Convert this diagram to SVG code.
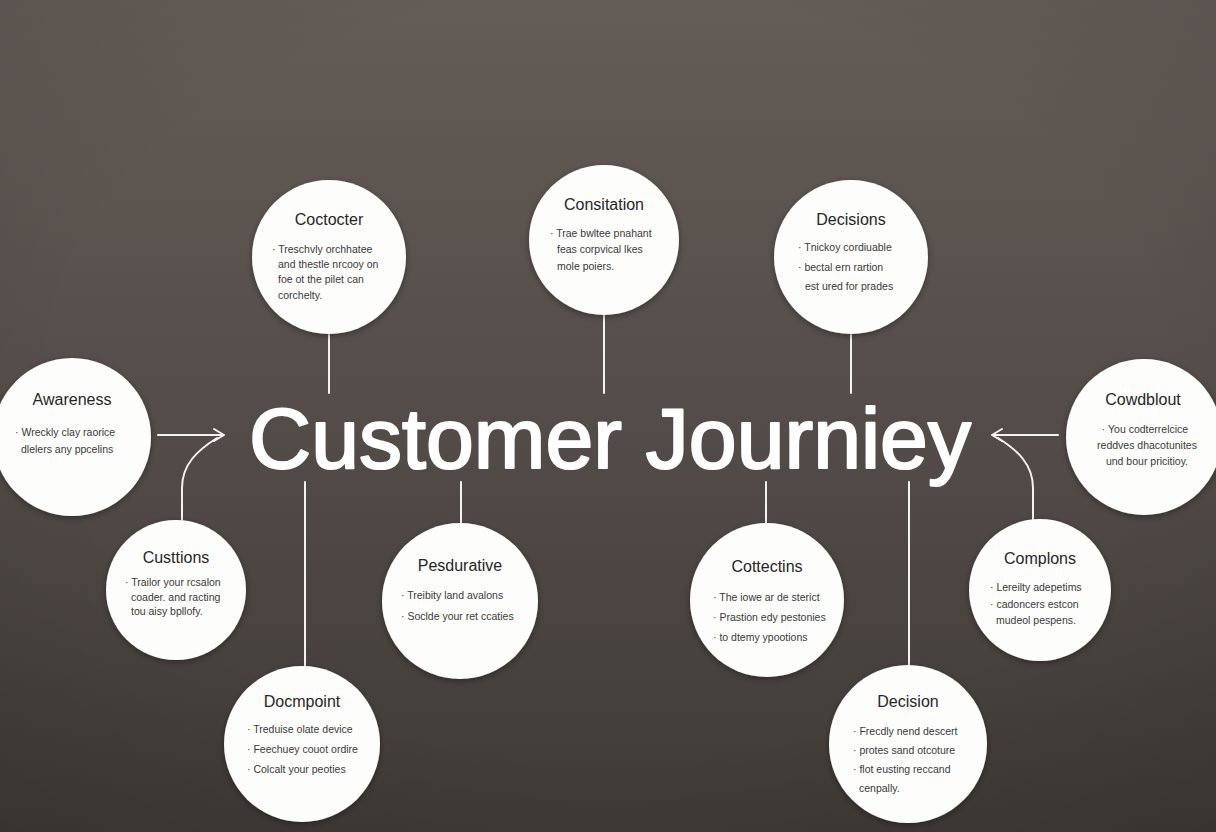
<svg xmlns="http://www.w3.org/2000/svg" width="1216" height="832" viewBox="0 0 1216 832">
<defs>
<linearGradient id="bg" x1="0" y1="0" x2="0" y2="1">
<stop offset="0" stop-color="#645c57"/>
<stop offset="0.5" stop-color="#534c48"/>
<stop offset="1" stop-color="#403a36"/>
</linearGradient>
<radialGradient id="vig" cx="0.5" cy="0.45" r="0.75">
<stop offset="0.6" stop-color="#000" stop-opacity="0"/>
<stop offset="1" stop-color="#000" stop-opacity="0.12"/>
</radialGradient>
<filter id="sh" x="-20%" y="-20%" width="140%" height="140%">
<feDropShadow dx="0" dy="2" stdDeviation="3" flood-color="#000" flood-opacity="0.35"/>
</filter>
</defs>
<style>
.c{fill:#fdfdfc;filter:url(#sh)}
.t{font-family:"Liberation Sans",Arial,sans-serif;font-size:16px;fill:#262626;text-anchor:middle}
.b{font-family:"Liberation Sans",Arial,sans-serif;font-size:10.5px;fill:#3a3a3a}
.m{text-anchor:middle}
.ln{stroke:#f4f2f0;stroke-width:2;fill:none;stroke-linecap:round;stroke-linejoin:round}
.title{font-family:"Liberation Sans",Arial,sans-serif;font-size:86px;fill:#ffffff;stroke:#ffffff;stroke-width:2.2;stroke-linejoin:round}
</style>
<rect width="1216" height="832" fill="url(#bg)"/>
<rect width="1216" height="832" fill="url(#vig)"/>

<g id="connectors">
<line class="ln" x1="329" y1="335" x2="329" y2="393"/>
<line class="ln" x1="604" y1="315" x2="604" y2="393"/>
<line class="ln" x1="851" y1="335" x2="851" y2="393"/>
<line class="ln" x1="305" y1="482" x2="305" y2="666"/>
<line class="ln" x1="461" y1="482" x2="461" y2="523"/>
<line class="ln" x1="766" y1="482" x2="766" y2="523"/>
<line class="ln" x1="909" y1="482" x2="909" y2="665"/>
<path class="ln" d="M158,435 L224,435 M214,429 L224,435 L214,441"/>
<path class="ln" d="M182,520 L182,488 C182,464 198,450 217,438"/>
<path class="ln" d="M1058,435 L992,435 M1002,429 L992,435 L1002,441"/>
<path class="ln" d="M1033,520 L1033,488 C1033,464 1017,450 998,438"/>
</g>

<text id="title" class="title" x="249" y="468" textLength="722" lengthAdjust="spacingAndGlyphs">Customer Journiey</text>

<g id="coctocter">
<circle class="c" cx="329" cy="257" r="77"/>
<text class="t" x="329" y="225">Coctocter</text>
<text class="b" x="272" y="253">· Treschvly orchhatee</text>
<text class="b" x="278" y="268">and thestle nrcooy on</text>
<text class="b" x="278" y="283">foe ot the pilet can</text>
<text class="b" x="278" y="299">corchelty.</text>
</g>

<g id="consitation">
<circle class="c" cx="604" cy="240" r="75"/>
<text class="t" x="604" y="210">Consitation</text>
<text class="b" x="550" y="237">· Trae bwltee pnahant</text>
<text class="b" x="557" y="253">feas corpvical lkes</text>
<text class="b" x="557" y="270">mole poiers.</text>
</g>

<g id="decisions">
<circle class="c" cx="851" cy="257" r="77"/>
<text class="t" x="851" y="225">Decisions</text>
<text class="b" x="798" y="251">· Tnickoy cordiuable</text>
<text class="b" x="798" y="271">· bectal ern rartion</text>
<text class="b" x="805" y="290">est ured for prades</text>
</g>

<g id="awareness">
<circle class="c" cx="72" cy="437" r="79"/>
<text class="t" x="72" y="405">Awareness</text>
<text class="b" x="15" y="436">· Wreckly clay raorice</text>
<text class="b" x="21" y="453">dlelers any ppcelins</text>
</g>

<g id="cowdblout">
<circle class="c" cx="1144" cy="437" r="78"/>
<text class="t" x="1143" y="405">Cowdblout</text>
<text class="b m" x="1145" y="433">· You codterrelcice</text>
<text class="b m" x="1147" y="449">reddves dhacotunites</text>
<text class="b m" x="1147" y="465">und bour pricitioy.</text>
</g>

<g id="custtions">
<circle class="c" cx="176" cy="590" r="70"/>
<text class="t" x="176" y="563">Custtions</text>
<text class="b" x="125" y="586">· Trailor your rcsalon</text>
<text class="b" x="131" y="601">coader. and racting</text>
<text class="b" x="131" y="615">tou aisy bpllofy.</text>
</g>

<g id="pesdurative">
<circle class="c" cx="460" cy="601" r="78"/>
<text class="t" x="460" y="571">Pesdurative</text>
<text class="b" x="401" y="599">· Treibity land avalons</text>
<text class="b" x="401" y="620">· Soclde your ret ccaties</text>
</g>

<g id="cottectins">
<circle class="c" cx="767" cy="600" r="77"/>
<text class="t" x="767" y="572">Cottectins</text>
<text class="b" x="713" y="601">· The iowe ar de sterict</text>
<text class="b" x="713" y="621">· Prastion edy pestonies</text>
<text class="b" x="713" y="641">· to dtemy ypootions</text>
</g>

<g id="complons">
<circle class="c" cx="1040" cy="590" r="71"/>
<text class="t" x="1040" y="564">Complons</text>
<text class="b" x="990" y="591">· Lereilty adepetims</text>
<text class="b" x="990" y="608">· cadoncers estcon</text>
<text class="b" x="996" y="624">mudeol pespens.</text>
</g>

<g id="docmpoint">
<circle class="c" cx="302" cy="744" r="78"/>
<text class="t" x="302" y="707">Docmpoint</text>
<text class="b" x="247" y="733">· Treduise olate device</text>
<text class="b" x="247" y="753">· Feechuey couot ordire</text>
<text class="b" x="247" y="773">· Colcalt your peoties</text>
</g>

<g id="decision">
<circle class="c" cx="908" cy="744" r="79"/>
<text class="t" x="908" y="707">Decision</text>
<text class="b" x="853" y="735">· Frecdly nend descert</text>
<text class="b" x="853" y="754">· protes sand otcoture</text>
<text class="b" x="853" y="773">· flot eusting reccand</text>
<text class="b" x="859" y="792">cenpally.</text>
</g>
</svg>
